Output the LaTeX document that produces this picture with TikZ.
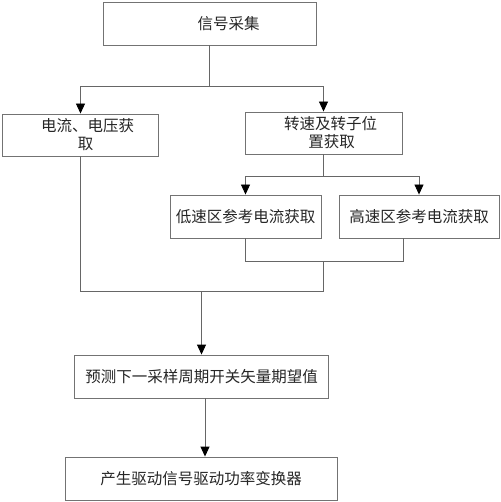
\documentclass[tikz,border=0pt]{standalone}
\usepackage{fontspec}
\newfontfamily\cjk{Noto Sans CJK SC}
\usetikzlibrary{arrows.meta}
\begin{document}
\begin{tikzpicture}[x=1pt,y=-1pt,
  box/.style={draw=black!55, line width=0.9pt, fill=white, rectangle, inner sep=0pt,
    text=black!85, align=center, font=\cjk\fontsize{15.5}{18}\selectfont},
  conn/.style={draw=black!60, line width=0.9pt},
  arr/.style={conn, -{Triangle[width=9pt,length=10pt,fill=black,color=black]}}]
\useasboundingbox (0,0) rectangle (500,502);
\fill[white] (0,0) rectangle (500,502);

\node[box, minimum width=213pt, minimum height=43pt] (top) at (209.5,23.5) {\hspace*{38pt}信号采集};
\node[box, minimum width=156pt, minimum height=42pt] (left) at (80.5,135) {\hspace*{14pt}电流、电压获\\\hspace*{10pt}取};
\node[box, minimum width=157pt, minimum height=42pt] (right) at (323.5,133) {\hspace*{14pt}转速及转子位\\\hspace*{16pt}置获取};
\node[box, minimum width=151pt, minimum height=43pt] (low) at (245.5,216.5) {低速区参考电流获取};
\node[box, minimum width=160pt, minimum height=43pt] (high) at (419,216.5) {高速区参考电流获取};
\node[box, minimum width=254pt, minimum height=43pt] (pred) at (201.5,376.5) {预测下一采样周期开关矢量期望值};
\node[box, minimum width=272pt, minimum height=43pt] (gen) at (201,478.5) {产生驱动信号驱动功率变换器};

\coordinate (j1) at (209.5,86);
\coordinate (j2) at (323.5,176);
\coordinate (j3) at (323.5,261);
\coordinate (j4) at (323.5,291);
\coordinate (j5) at (201.5,291);
\coordinate (hs) at (403,238);

\draw[conn] (top.south) -- (j1);
\draw[arr] (j1) -| (left.north);
\draw[arr] (j1) -| (right.north);
\draw[conn] (right.south) -- (j2);
\draw[arr] (j2) -| (low.north);
\draw[arr] (j2) -| (high.north);
\draw[conn] (low.south) |- (j3);
\draw[conn] (hs) |- (j3);
\draw[conn] (j3) -- (j4);
\draw[conn] (left.south) |- (j4);
\draw[arr] (j5) -- (pred.north);
\draw[arr] ([xshift=3.5pt]pred.south) -- ([xshift=4pt]gen.north);
\end{tikzpicture}
\end{document}
